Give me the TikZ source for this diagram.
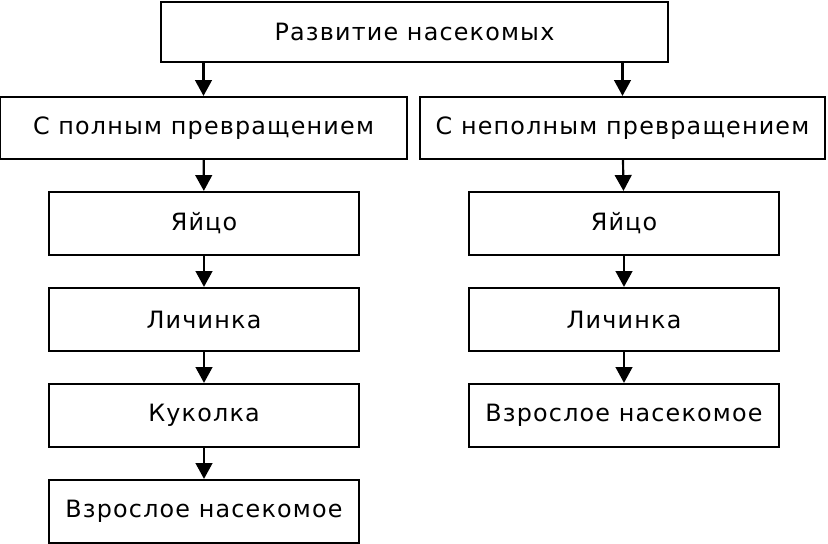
\documentclass[tikz,border=0pt]{standalone}
\usepackage{fontspec}
\setmainfont{DejaVu Sans}[LetterSpace=5]
\usetikzlibrary{positioning,arrows.meta}

\begin{document}
\begin{tikzpicture}[%
		x=0.6pt,
		y=-0.6pt,
		->,
		>={Triangle[length=9.5pt,width=10pt]},
		line width=1.3pt,
		node distance=18.5pt,
		stage/.style={%
			draw,
			minimum width=186pt,
			minimum height=37.8pt,
			inner sep=0pt,
			font=\fontsize{14.3}{16}\selectfont
		}
		]
		\useasboundingbox (0,0) rectangle (828,544);
		\node[stage, minimum width=304.2pt, minimum height=36pt] (top) at (414.5,32) {Развитие насекомых};
		\node[stage, minimum width=244.2pt, minimum height=37.2pt] (full) at (203.5,128) {С полным превращением};
		\node[stage, minimum width=243pt, minimum height=37.2pt] (part) at (622.5,128) {С неполным превращением};
		
		% left column
		\node[stage] (egg1) at (204,223.5)                        {Яйцо};
		\node[stage] (larva1) [below=of egg1]                      {Личинка};
		\node[stage] (pupa1) [below=of larva1]                     {Куколка};
		\node[stage] (adult1) [below=of pupa1]                     {Взрослое насекомое};
		
		% right column
		\node[stage] (egg2) at (624,223.5)                        {Яйцо};
		\node[stage] (larva2) [below=of egg2]                      {Личинка};
		\node[stage] (adult2) [below=of larva2]                    {Взрослое насекомое};
		
		\draw (top.south -| full.north) -- (full.north);
		\draw (top.south -| part.north) -- (part.north);
		\path (full) edge (egg1)
		(egg1) edge (larva1)
		(larva1) edge (pupa1)
		(pupa1) edge (adult1)
		(part) edge (egg2)
		(egg2) edge (larva2)
		(larva2) edge (adult2);
\end{tikzpicture}
\end{document}
